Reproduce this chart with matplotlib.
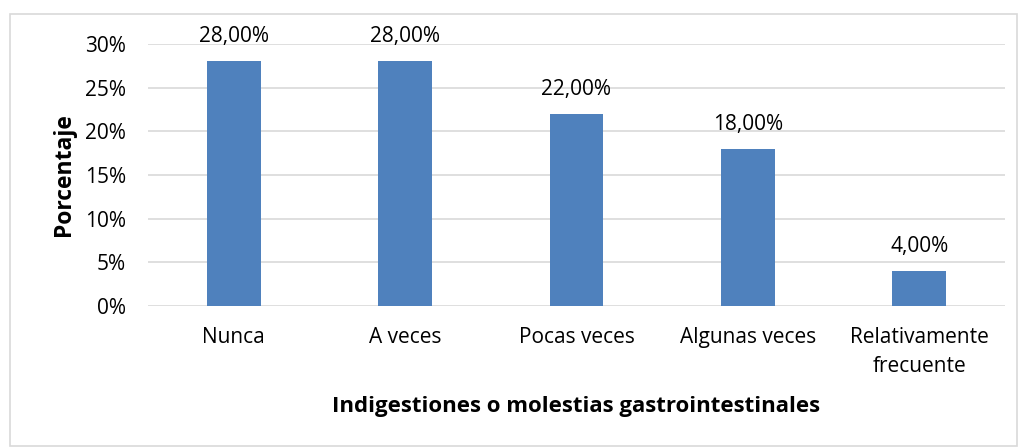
import matplotlib
matplotlib.use("Agg")
import matplotlib.pyplot as plt
from matplotlib.patches import Rectangle

categorias = ["Nunca", "A veces", "Pocas veces", "Algunas veces", "Relativamente\nfrecuente"]
porcentajes = [28.0, 28.0, 22.0, 18.0, 4.0]
ticks_y = [0, 5, 10, 15, 20, 25, 30]

plt.rcParams['font.family'] = ['Open Sans', 'DejaVu Sans']

fig = plt.figure(figsize=(10.19, 4.47), dpi=100)
ax = fig.add_axes([148 / 1019, 1 - 306 / 447, (1005 - 148) / 1019, (306 - 44) / 447])

x = range(len(categorias))
ax.bar(x, porcentajes, width=0.315, color='#4f81bd', zorder=3)

for i, v in enumerate(porcentajes):
    ax.text(i, v + 1.6, f"{v:.2f}%".replace('.', ','), ha='center', va='bottom', fontsize=15, color='#000000')

ax.set_xlim(-0.5, len(categorias) - 0.5)
ax.set_ylim(0, 30)
ax.set_yticks(ticks_y)
ax.set_yticklabels([f"{t}%" for t in ticks_y], fontsize=15)
ax.set_xticks(list(x))
ax.set_xticklabels(categorias, fontsize=15, linespacing=1.5)
ax.tick_params(axis='y', length=0, pad=16)
ax.tick_params(axis='x', length=0, pad=15)

ax.grid(axis='y', color='#d9d9d9', linewidth=1.2, zorder=0)
for s in ax.spines.values():
    s.set_visible(False)

ax.set_ylabel("Porcentaje", fontsize=16.5, fontweight='bold', labelpad=6)
ax.set_xlabel("Indigestiones o molestias gastrointestinales", fontsize=16, fontweight='bold', labelpad=14)

# borde del área del gráfico
fig.patches.append(Rectangle((10 / 1019, 1 / 447), 1007 / 1019, 432 / 447, transform=fig.transFigure,
                             fill=False, edgecolor='#d9d9d9', linewidth=1.2))

fig.savefig("out.png", dpi=100)
